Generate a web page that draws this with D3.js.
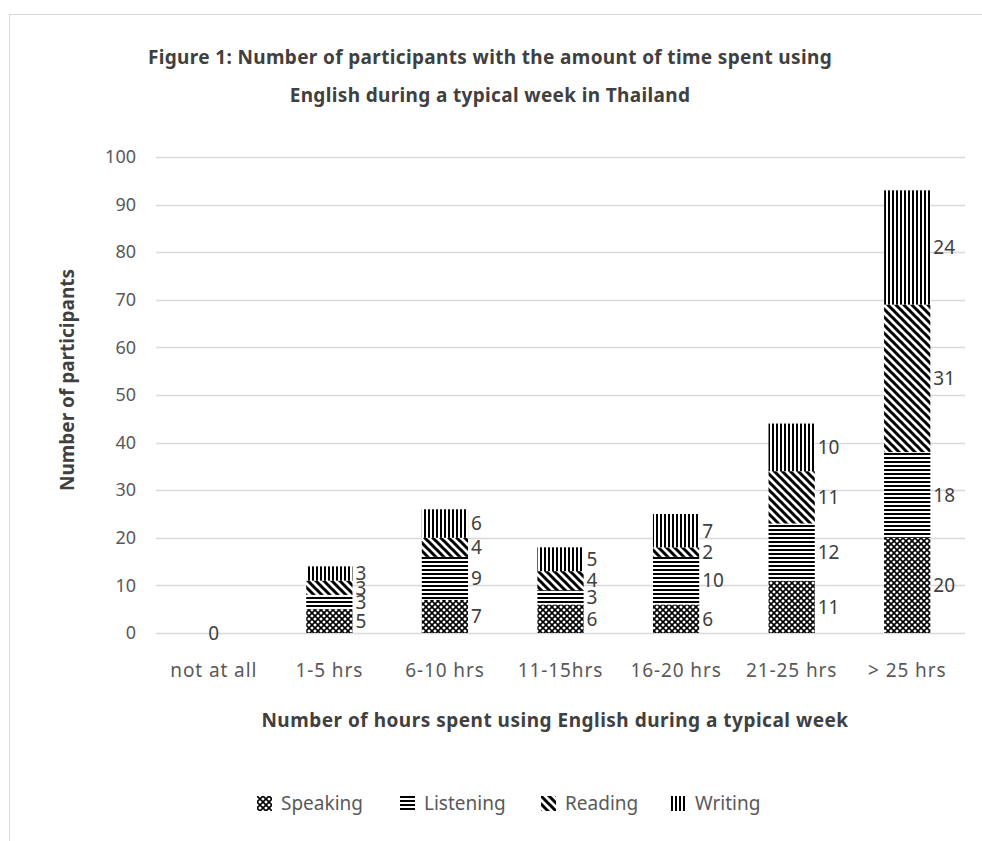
<!DOCTYPE html>
<html>
<head>
<meta charset="utf-8">
<script src="https://cdnjs.cloudflare.com/ajax/libs/d3/7.8.5/d3.min.js"></script>
<style>
  body { margin: 0; background: #fff; }
  text { font-family: "Noto Sans", sans-serif; }
</style>
</head>
<body>
<div id="chart"></div>
<script>
// Categories and series values
const categories = ["not at all", "1-5 hrs", "6-10 hrs", "11-15hrs", "16-20 hrs", "21-25 hrs", "> 25 hrs"];
const seriesNames = ["Speaking", "Listening", "Reading", "Writing"];
const speaking = [0, 5, 7, 6, 6, 11, 20];
const listening = [0, 3, 9, 3, 10, 12, 18];
const reading = [0, 3, 4, 4, 2, 11, 31];
const writing = [0, 3, 6, 5, 7, 10, 24];
const yTicks = [0, 10, 20, 30, 40, 50, 60, 70, 80, 90, 100];

const titleLines = [
  "Figure 1: Number of participants with the amount of time spent using",
  "English during a typical week in Thailand"
];

const W = 982, H = 841;
const margin = { top: 157, right: 17, bottom: 208, left: 156 };
const width = W - margin.left - margin.right;
const height = H - margin.top - margin.bottom;

// Build a table for d3.stack
const table = categories.map((c, i) => ({
  cat: c,
  Speaking: speaking[i],
  Listening: listening[i],
  Reading: reading[i],
  Writing: writing[i]
}));

const svg = d3.select("#chart").append("svg")
  .attr("width", W)
  .attr("height", H);

// Fill patterns for each series
const defs = svg.append("defs");

const pSpeak = defs.append("pattern").attr("id", "p-Speaking")
  .attr("patternUnits", "userSpaceOnUse").attr("width", 6).attr("height", 6);
pSpeak.append("rect").attr("width", 6).attr("height", 6).attr("fill", "#fff");
pSpeak.append("path").attr("d", "M0,0L6,6M6,0L0,6")
  .attr("stroke", "#000").attr("stroke-width", 1.6);

const pListen = defs.append("pattern").attr("id", "p-Listening")
  .attr("patternUnits", "userSpaceOnUse").attr("width", 4).attr("height", 4);
pListen.append("rect").attr("width", 4).attr("height", 4).attr("fill", "#fff");
pListen.append("rect").attr("width", 4).attr("height", 2).attr("fill", "#000");

const pRead = defs.append("pattern").attr("id", "p-Reading")
  .attr("patternUnits", "userSpaceOnUse").attr("width", 8).attr("height", 8);
pRead.append("rect").attr("width", 8).attr("height", 8).attr("fill", "#fff");
pRead.append("path").attr("d", "M-2,-2L10,10M-2,6L2,10M6,-2L10,2")
  .attr("stroke", "#000").attr("stroke-width", 3);

const pWrite = defs.append("pattern").attr("id", "p-Writing")
  .attr("patternUnits", "userSpaceOnUse").attr("width", 4).attr("height", 4);
pWrite.append("rect").attr("width", 4).attr("height", 4).attr("fill", "#fff");
pWrite.append("rect").attr("width", 2).attr("height", 4).attr("fill", "#000");

// Outer chart border
svg.append("rect")
  .attr("x", 9.5).attr("y", 14.5)
  .attr("width", W).attr("height", H)
  .attr("fill", "none")
  .attr("stroke", "#d9d9d9")
  .attr("stroke-width", 1);

// Title
svg.append("g").selectAll("text")
  .data(titleLines)
  .join("text")
  .attr("x", 490)
  .attr("y", (d, i) => 64 + i * 38)
  .attr("text-anchor", "middle")
  .attr("font-size", 19)
  .attr("font-weight", "bold")
  .attr("letter-spacing", 0.35)
  .attr("fill", "#404040")
  .text((d) => d);

const g = svg.append("g").attr("transform", `translate(${margin.left},${margin.top})`);

const x = d3.scaleBand().domain(categories).range([0, width]).paddingInner(0.6).paddingOuter(0.3);
const y = d3.scaleLinear().domain([0, 100]).range([height, 0]);

// Gridlines
g.append("g").selectAll("line")
  .data(yTicks)
  .join("line")
  .attr("x1", 0).attr("x2", width)
  .attr("y1", (d) => Math.round(y(d)) + 0.5)
  .attr("y2", (d) => Math.round(y(d)) + 0.5)
  .attr("stroke", "#d9d9d9")
  .attr("stroke-width", 1.3);

// Y axis labels
const yAxis = g.append("g")
  .attr("transform", "translate(-20,0)")
  .call(d3.axisLeft(y).tickValues(yTicks).tickSize(0).tickPadding(0));
yAxis.select(".domain").remove();
yAxis.selectAll("text")
  .attr("font-size", 18)
  .attr("fill", "#595959")
  .attr("font-family", "Noto Sans, sans-serif");

// X axis labels
const xAxis = g.append("g")
  .attr("transform", `translate(0,${height})`)
  .call(d3.axisBottom(x).tickSize(0).tickPadding(31));
xAxis.select(".domain").remove();
xAxis.selectAll("text")
  .attr("font-size", 19)
  .attr("letter-spacing", 0.9)
  .attr("fill", "#595959")
  .attr("font-family", "Noto Sans, sans-serif");

// Stacked bars
const stacked = d3.stack().keys(seriesNames)(table);

const layers = g.append("g").selectAll("g")
  .data(stacked)
  .join("g")
  .attr("fill", (d) => `url(#p-${d.key})`);

layers.selectAll("rect")
  .data((d) => d)
  .join("rect")
  .attr("x", (d) => x(d.data.cat))
  .attr("y", (d) => y(d[1]))
  .attr("width", x.bandwidth())
  .attr("height", (d) => y(d[0]) - y(d[1]));

// Data labels
const labels = [];
stacked.forEach((layer) => {
  layer.forEach((d) => {
    labels.push({ cat: d.data.cat, lo: d[0], hi: d[1], v: d[1] - d[0], key: layer.key });
  });
});

g.append("g").selectAll("text")
  .data(labels.filter((d) => d.v > 0 || (d.key === "Writing")))
  .join("text")
  .attr("x", (d) => d.v > 0 ? x(d.cat) + x.bandwidth() + 3 : x(d.cat) + x.bandwidth() / 2)
  .attr("y", (d) => y((d.lo + d.hi) / 2))
  .attr("dy", "0.36em")
  .attr("text-anchor", (d) => d.v > 0 ? "start" : "middle")
  .attr("font-size", 19)
  .attr("fill", "#404040")
  .text((d) => d.v);

// Axis titles
svg.append("text")
  .attr("transform", "translate(74,380) rotate(-90)")
  .attr("text-anchor", "middle")
  .attr("font-size", 19)
  .attr("font-weight", "bold")
  .attr("fill", "#404040")
  .text("Number of participants");

svg.append("text")
  .attr("x", 555)
  .attr("y", 727)
  .attr("text-anchor", "middle")
  .attr("font-size", 19)
  .attr("font-weight", "bold")
  .attr("letter-spacing", 0.5)
  .attr("fill", "#404040")
  .text("Number of hours spent using English during a typical week");

// Legend
const legendX = [257, 400, 541, 671];
const legend = svg.append("g").selectAll("g")
  .data(seriesNames)
  .join("g")
  .attr("transform", (d, i) => `translate(${legendX[i]},796)`);
legend.append("rect")
  .attr("width", 15).attr("height", 15)
  .attr("fill", (d) => `url(#p-${d})`);
legend.append("text")
  .attr("x", 24)
  .attr("y", 7.5)
  .attr("dy", "0.36em")
  .attr("font-size", 19)
  .attr("fill", "#595959")
  .text((d) => d);
</script>
</body>
</html>
